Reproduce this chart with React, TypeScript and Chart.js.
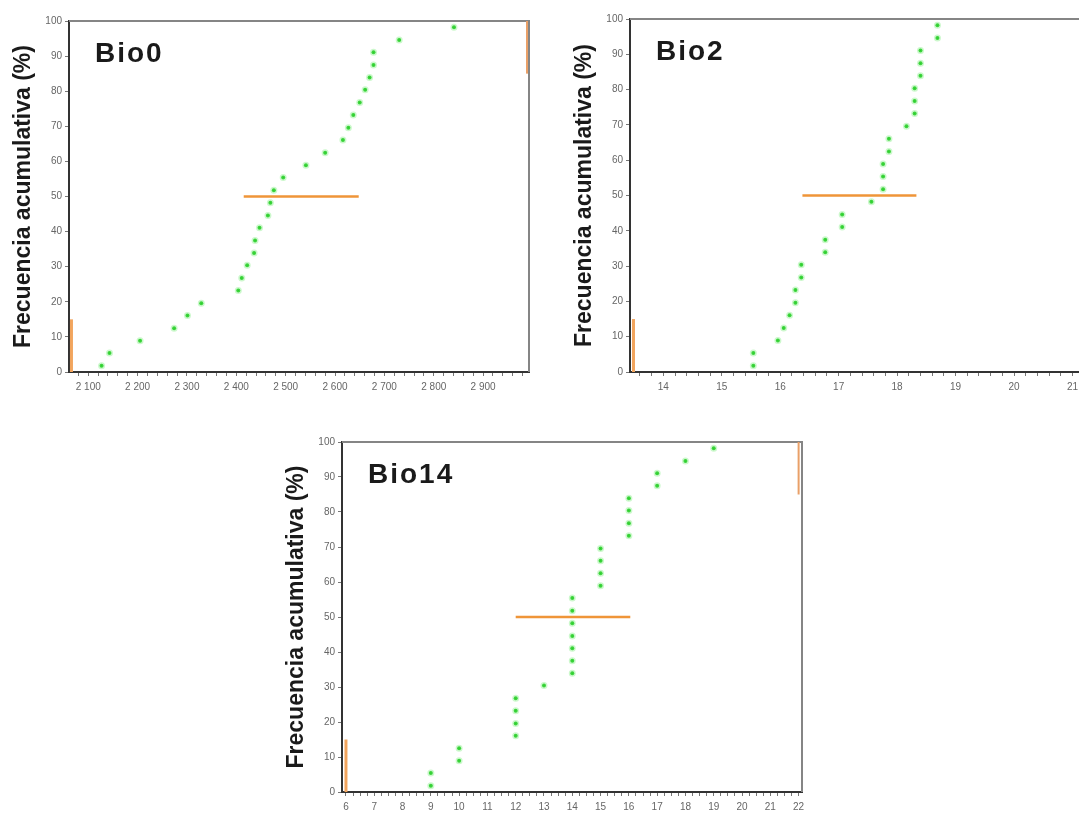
import React, { useEffect, useRef } from 'react';
import { Chart, registerables } from 'chart.js';
Chart.register(...registerables);

// cumulative frequency (%) of the 28 ordered observations (same for the three panels)
const cumPct = [1.8, 5.4, 8.9, 12.5, 16.1, 19.6, 23.2, 26.8, 30.4, 33.9, 37.5, 41.1, 44.6, 48.2, 51.8, 55.4, 58.9, 62.5, 66.1, 69.6, 73.2, 76.8, 80.4, 83.9, 87.5, 91.1, 94.6, 98.2];

const bio0X = [2127, 2143, 2205, 2274, 2301, 2329, 2404, 2411, 2422, 2436, 2438, 2447, 2464, 2469, 2476, 2495, 2541, 2580, 2616, 2627, 2637, 2650, 2661, 2670, 2678, 2678, 2730, 2841];
const bio2X = [15.54, 15.54, 15.96, 16.06, 16.16, 16.26, 16.26, 16.36, 16.36, 16.77, 16.77, 17.06, 17.06, 17.56, 17.76, 17.76, 17.76, 17.86, 17.86, 18.16, 18.3, 18.3, 18.3, 18.4, 18.4, 18.4, 18.69, 18.69];
const bio14X = [9, 9, 10, 10, 12, 12, 12, 12, 13, 14, 14, 14, 14, 14, 14, 14, 15, 15, 15, 15, 16, 16, 16, 16, 17, 17, 18, 19];

// median bar (x start, x end) at 50 %
const bio0Median = [2415, 2648];
const bio2Median = [16.38, 18.33];
const bio14Median = [12, 16.05];

// range markers (min, max)
const bio0Range = [2066, 2989];
const bio2Range = [13.49, 21.26];
const bio14Range = [6, 22];

// axis extents
const bio0Axis = [2061, 2993];
const bio2Axis = [13.43, 21.3];
const bio14Axis = [5.86, 22.12];

// major tick labels
const bio0Ticks = [2100, 2200, 2300, 2400, 2500, 2600, 2700, 2800, 2900];
const bio2Ticks = [14, 15, 16, 17, 18, 19, 20, 21];
const bio14Ticks = [6, 7, 8, 9, 10, 11, 12, 13, 14, 15, 16, 17, 18, 19, 20, 21, 22];
const yTicks = [0, 10, 20, 30, 40, 50, 60, 70, 80, 90, 100];

const yTitle = 'Frecuencia acumulativa (%)';
const FONT = '"Liberation Sans", Arial, sans-serif';

const fmtThousands = (v: number) => {
  const s = String(Math.round(v));
  return s.length > 3 ? s.slice(0, s.length - 3) + ' ' + s.slice(-3) : s;
};

const framePlugin = {
  id: 'frame',
  beforeDatasetsDraw(chart: any) {
    const { ctx, chartArea: a } = chart;
    ctx.save();
    ctx.strokeStyle = '#858585';
    ctx.lineWidth = 2;
    ctx.beginPath();
    ctx.moveTo(a.left, a.top);
    ctx.lineTo(a.right, a.top);
    ctx.lineTo(a.right, a.bottom);
    ctx.stroke();
    ctx.restore();
  },
  afterDraw(chart: any, _args: any, opts: any) {
    const { ctx, chartArea: a } = chart;
    ctx.save();
    ctx.font = `bold 28px ${FONT}`;
    try { (ctx as any).letterSpacing = '2px'; } catch (e) {}
    ctx.fillStyle = '#1a1a1a';
    ctx.textBaseline = 'alphabetic';
    ctx.fillText(opts.label, a.left + 26, a.top + 41);
    ctx.restore();
  },
};

type PanelCfg = {
  label: string;
  xs: number[];
  median: number[];
  range: number[];
  axis: number[];
  majors: number[];
  minorStep: number;
  fmt: (v: number) => string;
  left: number;
  top: number;
  h: number;
  padTop: number;
  xH: number;
};

const panels: PanelCfg[] = [
  { label: 'Bio0', xs: bio0X, median: bio0Median, range: bio0Range, axis: bio0Axis, majors: bio0Ticks, minorStep: 20, fmt: fmtThousands, left: 0, top: 0, h: 400, padTop: 21, xH: 28 },
  { label: 'Bio2', xs: bio2X, median: bio2Median, range: bio2Range, axis: bio2Axis, majors: bio2Ticks, minorStep: 0.2, fmt: (v) => String(v), left: 561, top: 0, h: 400, padTop: 19, xH: 28 },
  { label: 'Bio14', xs: bio14X, median: bio14Median, range: bio14Range, axis: bio14Axis, majors: bio14Ticks, minorStep: 0.25, fmt: (v) => String(v), left: 273, top: 420, h: 397, padTop: 22, xH: 25 },
];

function Panel({ cfg }: { cfg: PanelCfg }) {
  const ref = useRef<HTMLCanvasElement>(null);
  useEffect(() => {
    const orange = '#ef9538';
    const chart = new Chart(ref.current as HTMLCanvasElement, {
      type: 'scatter',
      data: {
        datasets: [
          { type: 'line', data: [{ x: cfg.range[0], y: 0 }, { x: cfg.range[0], y: 15 }], borderColor: '#f2a55e', borderWidth: 3, pointRadius: 0 } as any,
          { type: 'line', data: [{ x: cfg.range[1], y: 85 }, { x: cfg.range[1], y: 100 }], borderColor: '#e9a068', borderWidth: 2, pointRadius: 0 } as any,
          { type: 'line', data: [{ x: cfg.median[0], y: 50 }, { x: cfg.median[1], y: 50 }], borderColor: orange, borderWidth: 2.5, pointRadius: 0 } as any,
          {
            type: 'scatter',
            data: cfg.xs.map((x, i) => ({ x, y: cumPct[i] })),
            pointRadius: 2,
            backgroundColor: '#22c822',
            borderColor: 'rgba(110,235,110,0.35)',
            borderWidth: 3,
          } as any,
        ],
      },
      options: {
        animation: false,
        responsive: false,
        devicePixelRatio: 1,
        layout: { padding: { top: cfg.padTop, right: 11, left: 0, bottom: 0 } },
        plugins: { legend: { display: false }, tooltip: { enabled: false }, frame: { label: cfg.label } } as any,
        scales: {
          x: {
            type: 'linear',
            min: cfg.axis[0],
            max: cfg.axis[1],
            afterFit: (s: any) => { s.height = cfg.xH; },
            border: { display: true, color: '#333', width: 2 },
            grid: { drawOnChartArea: false, drawTicks: true, tickLength: 4, tickColor: '#777' },
            ticks: {
              stepSize: cfg.minorStep,
              includeBounds: false,
              autoSkip: false,
              maxRotation: 0,
              minRotation: 0,
              padding: 5,
              color: '#666',
              font: { family: FONT, size: 10 },
              callback: (v: any) => {
                const n = Number(v);
                return cfg.majors.some((m) => Math.abs(m - n) < 1e-6) ? cfg.fmt(n) : '';
              },
            },
          },
          y: {
            type: 'linear',
            min: 0,
            max: 100,
            afterFit: (s: any) => { s.width = 69; },
            border: { display: true, color: '#333', width: 2 },
            grid: { drawOnChartArea: false, drawTicks: true, tickLength: 4, tickColor: '#777' },
            title: {
              display: true,
              text: yTitle,
              color: '#1a1a1a',
              font: { family: FONT, size: 23, weight: 'bold' },
              padding: { top: 10, bottom: 0 },
            },
            ticks: {
              stepSize: 10,
              padding: 3,
              color: '#666',
              font: { family: FONT, size: 10 },
              callback: (v: any) => (yTicks.includes(Number(v)) ? String(v) : ''),
            },
          },
        },
      } as any,
      plugins: [framePlugin as any],
    });
    return () => chart.destroy();
  }, [cfg]);
  return (
    <canvas
      ref={ref}
      width={540}
      height={cfg.h}
      style={{ position: 'absolute', left: cfg.left, top: cfg.top, width: 540, height: cfg.h }}
    />
  );
}

export default function App() {
  return (
    <div style={{ position: 'absolute', left: 0, top: 0, width: 1079, height: 817, overflow: 'hidden', background: '#fff' }}>
      {panels.map((p) => (
        <Panel key={p.label} cfg={p} />
      ))}
    </div>
  );
}
